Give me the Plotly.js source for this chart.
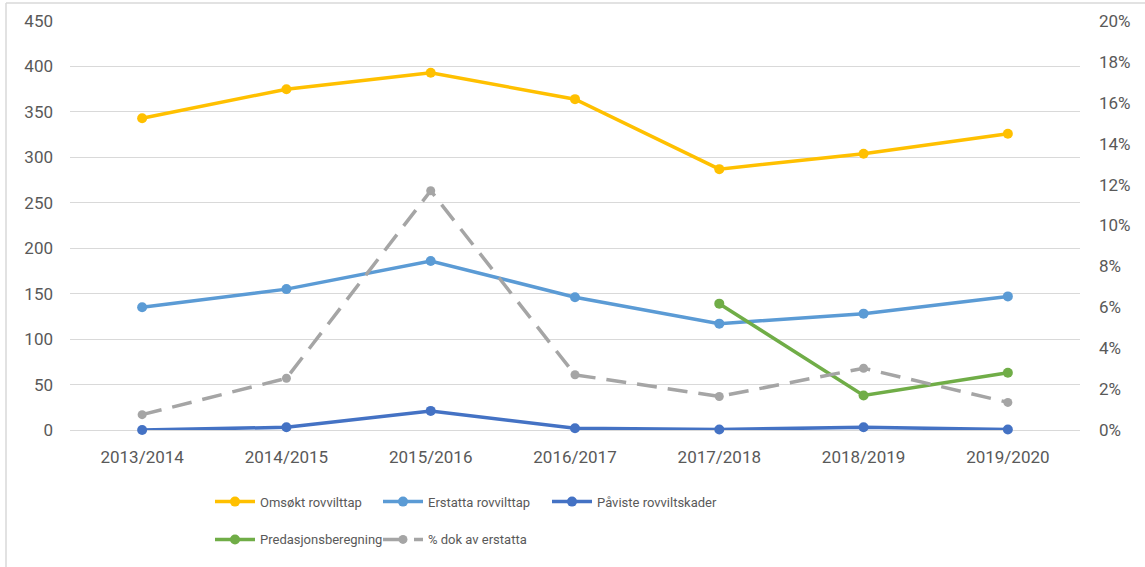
<!DOCTYPE html>
<html>
<head>
<meta charset="utf-8">
<script src="https://cdn.plot.ly/plotly-3.0.1.min.js"></script>
<style>html,body{margin:0;padding:0;background:#fff;}#chart{width:1145px;height:567px;}</style>
</head>
<body>
<div id="chart"></div>
<script>
const seasons = ["2013/2014","2014/2015","2015/2016","2016/2017","2017/2018","2018/2019","2019/2020"];
const omsokt = [343, 375, 393, 364, 287, 304, 326];
const erstatta = [135, 155, 186, 146, 117, 128, 147];
const paviste = [0, 3, 21, 2, 0.5, 3, 0.5];
const predasjon = [null, null, null, null, 139, 38, 63];
const dokPct = [0.0075, 0.0253, 0.117, 0.027, 0.0164, 0.0302, 0.0135];
const leftTicks = [0,50,100,150,200,250,300,350,400,450];

const W = 1145, H = 567;
const L = 70, R = 65, T = 21, B = 135;
const pw = W - L - R, ph = H - T - B;
const px = x => (x - L) / pw;
const py = y => (H - B - y) / ph;

function tr(name, y, color, leg, extra) {
  return Object.assign({
    type: 'scatter', mode: 'lines+markers', x: seasons, y: y, name: name,
    line: {color: color, width: 3.5}, marker: {color: color, size: 10},
    connectgaps: false, cliponaxis: false, legend: leg
  }, extra || {});
}

const data = [
  tr('Omsøkt rovvilttap', omsokt, '#FFC000', 'legend'),
  tr('Erstatta rovvilttap', erstatta, '#5B9BD5', 'legend2'),
  tr('Påviste rovviltskader', paviste, '#4472C4', 'legend3'),
  tr('Predasjonsberegning', predasjon, '#70AD47', 'legend4'),
  tr('% dok av erstatta', dokPct, '#A5A5A5', 'legend5', {yaxis: 'y2', line: {color: '#A5A5A5', width: 3.5, dash: '20px,11px'}, marker: {color: '#A5A5A5', size: 9}})
];

const tickFont = {family: 'Roboto, sans-serif', size: 17, color: '#595959'};
const legFont = {family: 'Roboto, sans-serif', size: 13, color: '#595959'};

function leg(xPix, yPix) {
  return {
    orientation: 'h', x: px(xPix), xanchor: 'left', y: py(yPix), yanchor: 'middle',
    font: legFont, itemwidth: 40, bgcolor: 'rgba(0,0,0,0)'
  };
}

const layout = {
  width: W, height: H,
  margin: {l: L, r: R, t: T, b: B, pad: 0},
  paper_bgcolor: '#fff', plot_bgcolor: '#fff',
  showlegend: true,
  xaxis: {
    type: 'category', range: [-0.5, 6.5], showgrid: false, zeroline: false, showline: false,
    ticks: '', tickfont: tickFont, ticklabelstandoff: 15, fixedrange: true
  },
  yaxis: {
    range: [0, 450], tickvals: leftTicks, showgrid: true, gridcolor: '#D9D9D9', gridwidth: 1,
    zeroline: true, zerolinecolor: '#D9D9D9', zerolinewidth: 1, showline: false, ticks: '',
    tickfont: tickFont, ticklabelstandoff: 16, fixedrange: true
  },
  yaxis2: {
    overlaying: 'y', side: 'right', range: [0, 0.2], dtick: 0.02, tick0: 0, tickformat: '.0%',
    showgrid: false, zeroline: false, showline: false, ticks: '', tickfont: tickFont,
    ticklabelstandoff: 18, fixedrange: true
  },
  legend: leg(210, 504),
  legend2: leg(378, 504),
  legend3: leg(547, 504),
  legend4: leg(210, 542),
  legend5: leg(378, 542),
  shapes: [
    {type: 'line', xref: 'paper', yref: 'paper', x0: px(6), x1: px(1150), y0: py(3), y1: py(3), line: {color: '#D9D9D9', width: 1.5}},
    {type: 'line', xref: 'paper', yref: 'paper', x0: px(6), x1: px(6), y0: py(3), y1: py(570), line: {color: '#D9D9D9', width: 1.5}}
  ]
};

Plotly.newPlot('chart', data, layout, {displayModeBar: false, staticPlot: true});
</script>
</body>
</html>
